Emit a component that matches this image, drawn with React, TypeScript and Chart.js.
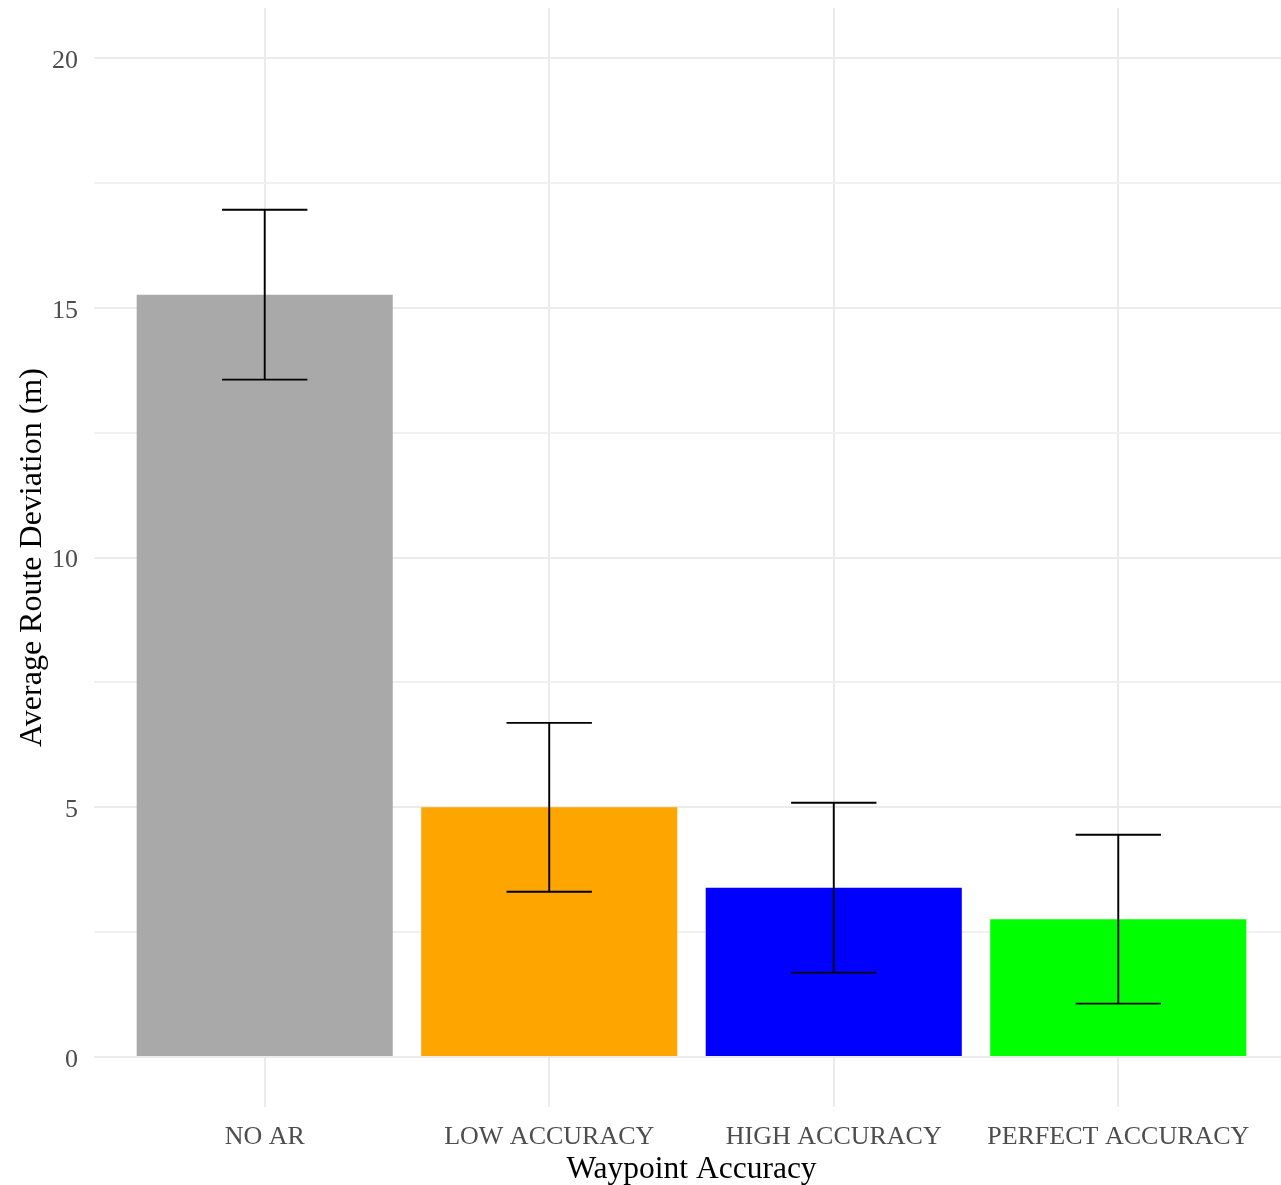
import React, { useEffect, useRef } from "react";
import { Chart, registerables } from "chart.js";

Chart.register(...registerables);

// Route deviation per waypoint-accuracy condition (mean ± error, metres)
const categories = ["NO AR", "LOW ACCURACY", "HIGH ACCURACY", "PERFECT ACCURACY"];
const meanDeviation = [15.26, 5.0, 3.39, 2.76];
const errorMargin = [1.7, 1.69, 1.7, 1.69];
const barColors = ["#A9A9A9", "#FFA500", "#0000FF", "#00FF00"];

const yMajorTicks = [0, 5, 10, 15, 20];
const yMinorTicks = [2.5, 7.5, 12.5, 17.5];

const SERIF = "'Liberation Serif', 'Times New Roman', serif";
const VIEW_W = 1281;
const VIEW_H = 1185;
const CANVAS_W = 1289;
const CANVAS_H = 1189;

const errorBarPlugin = {
  id: "errorBars",
  afterDatasetsDraw(chart: any) {
    const { ctx, scales } = chart;
    const xs = scales.x;
    const ys = scales.y;
    ctx.save();
    ctx.strokeStyle = "#000000";
    ctx.lineWidth = 1.9;
    ctx.lineCap = "butt";
    meanDeviation.forEach((m, i) => {
      const cx = xs.getPixelForValue(i);
      const x0 = xs.getPixelForValue(i - 0.15);
      const x1 = xs.getPixelForValue(i + 0.15);
      const yTop = ys.getPixelForValue(m + errorMargin[i]);
      const yBot = ys.getPixelForValue(m - errorMargin[i]);
      ctx.beginPath();
      ctx.moveTo(cx, yTop);
      ctx.lineTo(cx, yBot);
      ctx.moveTo(x0, yTop);
      ctx.lineTo(x1, yTop);
      ctx.moveTo(x0, yBot);
      ctx.lineTo(x1, yBot);
      ctx.stroke();
    });
    ctx.restore();
  },
};

export default function App() {
  const canvasRef = useRef<HTMLCanvasElement | null>(null);

  useEffect(() => {
    if (!canvasRef.current) return;
    const allYTicks = [...yMajorTicks, ...yMinorTicks].sort((a, b) => a - b);

    const chart = new Chart(canvasRef.current, {
      type: "bar",
      data: {
        datasets: [
          {
            data: categories.map((_, i) => ({ x: i, y: meanDeviation[i] })),
            backgroundColor: barColors,
            borderWidth: 0,
            barPercentage: 0.9,
            categoryPercentage: 1.0,
          },
        ],
      },
      options: {
        animation: false,
        responsive: false,
        devicePixelRatio: 1,
        layout: { padding: { top: 8, left: 0, right: 0, bottom: 0 } },
        plugins: {
          legend: { display: false },
          tooltip: { enabled: false },
        },
        scales: {
          x: {
            type: "linear",
            min: -0.6,
            max: 3.6,
            offset: false,
            border: { display: false },
            grid: {
              offset: false,
              drawTicks: false,
              color: "#EBEBEB",
              lineWidth: 2,
            },
            afterBuildTicks: (axis: any) => {
              axis.ticks = categories.map((_, i) => ({ value: i }));
            },
            afterFit: (axis: any) => {
              axis.height = 82;
              axis.paddingLeft = 0;
              axis.paddingRight = 0;
            },
            ticks: {
              autoSkip: false,
              maxRotation: 0,
              padding: 15,
              color: "#4D4D4D",
              font: { family: SERIF, size: 26 },
              callback: (v: any) => categories[Math.round(Number(v))] ?? "",
            },
            title: {
              display: true,
              text: "Waypoint Accuracy",
              color: "#000000",
              font: { family: SERIF, size: 31.5 },
              padding: { top: 0, bottom: 0 },
            },
          },
          y: {
            type: "linear",
            min: -1,
            max: 21,
            border: { display: false },
            grid: {
              drawTicks: false,
              color: (c: any) =>
                yMajorTicks.includes(c.tick?.value) ? "#EBEBEB" : "#F0F0F0",
              lineWidth: 2,
            },
            afterBuildTicks: (axis: any) => {
              axis.ticks = allYTicks.map((v) => ({ value: v }));
            },
            afterFit: (axis: any) => {
              axis.width = 94;
              axis.paddingTop = 0;
              axis.paddingBottom = 0;
            },
            ticks: {
              autoSkip: false,
              padding: 16,
              labelOffset: 3,
              color: "#4D4D4D",
              font: { family: SERIF, size: 26 },
              callback: (v: any) =>
                yMajorTicks.includes(Number(v)) ? String(v) : "",
            },
            title: {
              display: true,
              text: "Average Route Deviation (m)",
              color: "#000000",
              font: { family: SERIF, size: 32 },
              padding: { top: 13, bottom: 0 },
            },
          },
        },
      },
      plugins: [errorBarPlugin],
    } as any);

    return () => chart.destroy();
  }, []);

  return (
    <div
      style={{
        position: "fixed",
        left: 0,
        top: 0,
        width: VIEW_W,
        height: VIEW_H,
        overflow: "hidden",
        background: "#ffffff",
      }}
    >
      <canvas
        ref={canvasRef}
        width={CANVAS_W}
        height={CANVAS_H}
        style={{ display: "block", width: CANVAS_W, height: CANVAS_H }}
      />
    </div>
  );
}
